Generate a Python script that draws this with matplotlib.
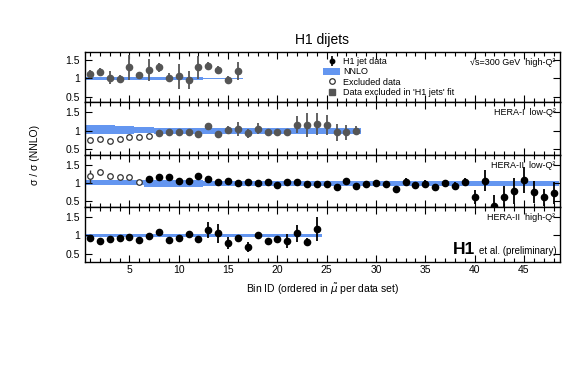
import matplotlib
matplotlib.use("Agg")
import matplotlib.pyplot as plt
from matplotlib.lines import Line2D
from matplotlib.patches import Patch
import numpy as np

plt.rcParams["font.family"] = ["Liberation Sans", "DejaVu Sans"]

# sqrt(s)=300 GeV high-Q2 (all points excluded in 'H1 jets' fit)
vals1 = [1.13, 1.17, 1.02, 0.99, 1.30, 1.08, 1.23, 1.30, 1.02, 1.05, 0.95, 1.30, 1.35, 1.23, 0.95, 1.20]
errs1 = [0.11, 0.10, 0.18, 0.10, 0.34, 0.08, 0.30, 0.12, 0.12, 0.34, 0.24, 0.32, 0.10, 0.12, 0.10, 0.25]
nnlo1_c = [0.99] * 12 + [1.0] * 4
nnlo1_hw = [0.045] * 12 + [0.012] * 4

# HERA-I low-Q2 (first 7 excluded, rest excluded in 'H1 jets' fit)
vals2 = [0.75, 0.78, 0.73, 0.77, 0.84, 0.84, 0.86,
         0.94, 0.96, 0.96, 0.98, 0.91, 1.14, 0.91, 1.03, 1.05, 0.94, 1.06, 0.98, 0.96, 0.96,
         1.17, 1.16, 1.19, 1.16, 0.96, 0.96, 1.01]
errs2 = [0.02] * 7 + [0.04, 0.04, 0.04, 0.05, 0.05, 0.08, 0.05, 0.11, 0.20, 0.12, 0.14,
                      0.06, 0.05, 0.05, 0.22, 0.32, 0.30, 0.28, 0.22, 0.20, 0.12]
nnlo2_c = [1.04, 1.04, 1.04, 1.03, 1.03, 1.02, 1.02] + [1.0] * 21
nnlo2_hw = [0.12, 0.12, 0.12, 0.10, 0.10, 0.08, 0.08] + [0.075] * 21

# HERA-II low-Q2 (first 6 excluded)
vals3 = [1.18, 1.31, 1.18, 1.15, 1.16, 1.04,
         1.10, 1.15, 1.17, 1.06, 1.06, 1.18,
         1.10, 1.04, 1.06, 1.01, 1.02, 1.01, 1.02, 0.96, 1.02, 1.02,
         0.97, 0.97, 0.97, 0.90, 1.06, 0.92, 0.97, 0.99, 0.97, 0.85,
         1.04, 0.94, 0.97, 0.88, 0.99, 0.93, 1.04, 0.62, 1.06, 0.37,
         0.62, 0.78, 1.08, 0.76, 0.62, 0.74]
errs3 = [0.18, 0.08, 0.05, 0.05, 0.05, 0.05,
         0.05, 0.05, 0.05, 0.05, 0.05, 0.09,
         0.05, 0.05, 0.05, 0.04, 0.04, 0.04, 0.04, 0.04, 0.04, 0.04,
         0.04, 0.04, 0.04, 0.06, 0.06, 0.06, 0.07, 0.08, 0.09, 0.08,
         0.10, 0.10, 0.10, 0.10, 0.10, 0.10, 0.10, 0.19, 0.28, 0.30,
         0.30, 0.35, 0.35, 0.30, 0.23, 0.30]
nnlo3_c = [1.02] * 6 + [1.0] * 6 + [0.985] * 36
nnlo3_hw = [0.07] * 6 + [0.095] * 6 + [0.065] * 36

# HERA-II high-Q2
vals4 = [0.91, 0.85, 0.89, 0.93, 0.95, 0.86, 0.97, 1.07, 0.86, 0.93, 1.03, 0.89,
         1.14, 1.05, 0.78, 0.93, 0.68, 1.00, 0.85, 0.89, 0.84, 1.05, 0.80, 1.16]
errs4 = [0.04, 0.04, 0.04, 0.04, 0.04, 0.04, 0.04, 0.06, 0.04, 0.04, 0.05, 0.04,
         0.22, 0.26, 0.16, 0.04, 0.13, 0.04, 0.05, 0.06, 0.19, 0.23, 0.11, 0.32]
nnlo4_c = [1.0] * 24
nnlo4_hw = [0.04] * 24

BLUE = "#6496f0"
GRAY = "#555555"

panels = [
    # values, errors, band centre, band half width, n excluded, style, label
    (vals1, errs1, nnlo1_c, nnlo1_hw, 0, "gray", "\u221as=300 GeV  high-Q\u00b2"),
    (vals2, errs2, nnlo2_c, nnlo2_hw, 7, "gray", "HERA-I  low-Q\u00b2"),
    (vals3, errs3, nnlo3_c, nnlo3_hw, 6, "black", "HERA-II  low-Q\u00b2"),
    (vals4, errs4, nnlo4_c, nnlo4_hw, 0, "black", "HERA-II  high-Q\u00b2"),
]
ylims = [(0.35, 1.72), (0.35, 1.78), (0.35, 1.76), (0.27, 1.76)]

W, H = 567, 366
fig = plt.figure(figsize=(W / 100, H / 100), dpi=100)
left, right = 85, 560
edges = [52, 102, 155, 207, 262]

axes = []
for i, (vals, errs, bc, bhw, nexcl, style, label) in enumerate(panels):
    ax = fig.add_axes([left / W, 1 - edges[i + 1] / H, (right - left) / W,
                       (edges[i + 1] - edges[i]) / H])
    axes.append(ax)
    bins = np.arange(1, len(vals) + 1)
    bc = np.asarray(bc)
    bhw = np.asarray(bhw)
    ax.bar(bins, 2 * bhw, bottom=bc - bhw, width=1.0, color=BLUE,
           linewidth=0, zorder=1)

    vals = np.asarray(vals)
    errs = np.asarray(errs)
    if nexcl:
        ax.errorbar(bins[:nexcl], vals[:nexcl], yerr=errs[:nexcl], fmt="o",
                    ms=4.0, mfc="white", mec="#333333", mew=0.9,
                    ecolor="#333333", elinewidth=1.0, capsize=0, zorder=3)
    col = GRAY if style == "gray" else "black"
    ax.errorbar(bins[nexcl:], vals[nexcl:], yerr=errs[nexcl:], fmt="o",
                ms=4.5, color=col, elinewidth=1.3, capsize=0, zorder=3)

    ax.set_xlim(0.5, 48.65)
    ax.set_ylim(*ylims[i])
    ax.set_xticks(range(5, 50, 5))
    ax.set_xticks(range(1, 49), minor=True)
    ax.set_yticks([0.5, 1, 1.5])
    ax.set_yticklabels(["0.5", "1", "1.5"])
    ax.tick_params(which="both", direction="in", top=True, right=True,
                   width=0.8, labelsize=7.5)
    ax.tick_params(which="major", length=5)
    ax.tick_params(which="minor", length=3)
    ax.tick_params(axis="y", pad=3.5)
    ax.tick_params(axis="x", pad=2.5)
    for sp in ax.spines.values():
        sp.set_linewidth(1.0)
    if i < 3:
        ax.tick_params(axis="x", labelbottom=False)
    ax.text(0.99, 0.80, label, transform=ax.transAxes, ha="right",
            va="center", fontsize=6.5, zorder=5)

axes[-1].set_xlabel(r"Bin ID (ordered in $\tilde{\mu}$ per data set)", fontsize=7.5,
                    labelpad=5)
fig.text(35 / W, 1 - 155 / H, "\u03c3 / \u03c3 (NNLO)", rotation=90,
         ha="center", va="center", fontsize=7.5)
fig.text(322 / W, 1 - 40 / H, "H1 dijets", ha="center", va="center", fontsize=10)

ax4 = axes[-1]
ax4.text(0.992, 0.14, "et al. (preliminary)", transform=ax4.transAxes,
         ha="right", va="baseline", fontsize=7)
ax4.text(0.822, 0.14, "H1", transform=ax4.transAxes, ha="right",
         va="baseline", fontsize=12.5, fontweight="bold")

handles = [
    (Line2D([], [], marker="|", ms=7, mew=1.2, color="k", ls="none"),
     Line2D([], [], marker="o", ms=3.2, color="k", ls="none")),
    Patch(facecolor=BLUE, edgecolor="none"),
    Line2D([], [], marker="o", ms=4, mfc="white", mec="#333333", mew=0.9, ls="none"),
    Line2D([], [], marker="s", ms=4, color=GRAY, ls="none"),
]
labels = ["H1 jet data", "NNLO", "Excluded data", "Data excluded in 'H1 jets' fit"]
fig.legend(handles, labels, loc="upper left", bbox_to_anchor=(323 / W, 1 - 57 / H),
           frameon=False, fontsize=6.5, borderpad=0, borderaxespad=0,
           handlelength=1.9, handleheight=0.8, handletextpad=0.3, labelspacing=0.15)

fig.savefig("out.png", dpi=100)
